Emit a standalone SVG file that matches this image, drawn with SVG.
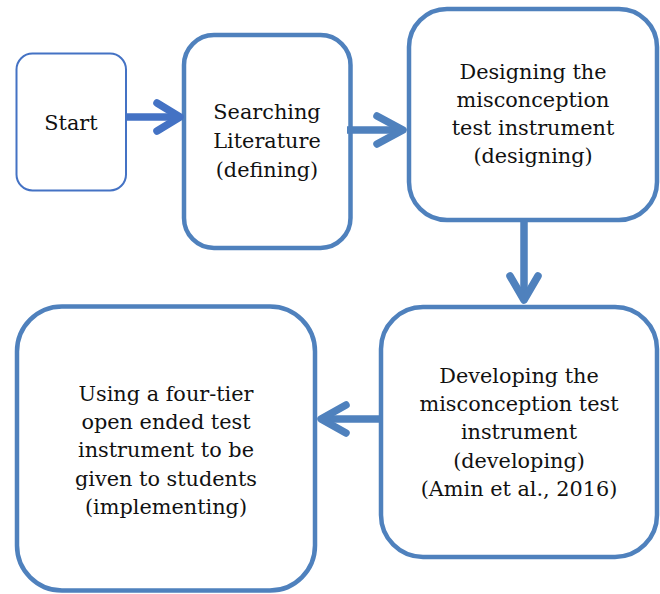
<svg xmlns="http://www.w3.org/2000/svg" width="660" height="594" viewBox="0 0 660 594">
<style>
.box{fill:#fff;stroke:#4F81BD;stroke-width:4.5}
.start{fill:#fff;stroke:#4472C4;stroke-width:2}
.t{font-family:"DejaVu Serif","Liberation Serif",serif;font-size:20.8px;fill:#111;text-anchor:middle}
.ar{fill:none;stroke:#4F81BD;stroke-width:7.5;stroke-linecap:round;stroke-linejoin:round}
.ar1{stroke:#4472C4}
.sh{fill:none;stroke:#4F81BD;stroke-width:7.5}
.sh1{stroke:#4472C4}
</style>
<rect width="660" height="594" fill="#fff"/>
<g id="start">
<rect class="start" x="16.5" y="53.5" width="109.5" height="137" rx="16"/>
<text class="t" x="71" y="130">Start</text>
</g>
<g id="searching">
<rect class="box" x="184" y="35" width="166.5" height="213" rx="30"/>
<text class="t" x="267" y="119">Searching</text>
<text class="t" x="267" y="148">Literature</text>
<text class="t" x="267" y="177">(defining)</text>
</g>
<g id="designing">
<rect class="box" x="409" y="9" width="248" height="211" rx="38"/>
<text class="t" x="533" y="79">Designing the</text>
<text class="t" x="533" y="107">misconception</text>
<text class="t" x="533" y="135">test instrument</text>
<text class="t" x="533" y="163">(designing)</text>
</g>
<g id="developing">
<rect class="box" x="381" y="307" width="276" height="250" rx="42"/>
<text class="t" x="519" y="383">Developing the</text>
<text class="t" x="519" y="411">misconception test</text>
<text class="t" x="519" y="439">instrument</text>
<text class="t" x="519" y="468">(developing)</text>
<text class="t" x="519" y="496">(Amin et al., 2016)</text>
</g>
<g id="implementing">
<rect class="box" x="17" y="306.5" width="298" height="284" rx="45"/>
<text class="t" x="166" y="401">Using a four-tier</text>
<text class="t" x="166" y="429">open ended test</text>
<text class="t" x="166" y="457">instrument to be</text>
<text class="t" x="166" y="486">given to students</text>
<text class="t" x="166" y="514">(implementing)</text>
</g>
<g id="connectors">
<line class="sh sh1" x1="127" y1="117" x2="180" y2="117"/>
<polyline class="ar ar1" points="157,103 180,117 157,131"/>
<line class="sh" x1="347" y1="130" x2="403" y2="130"/>
<polyline class="ar" points="377,116 403,130 377,144"/>
<line class="sh" x1="524" y1="220" x2="524" y2="300"/>
<polyline class="ar" points="510,276 524,300 538,276"/>
<line class="sh" x1="380" y1="419" x2="321" y2="419"/>
<polyline class="ar" points="346,405 321,419 346,433"/>
</g>
</svg>
